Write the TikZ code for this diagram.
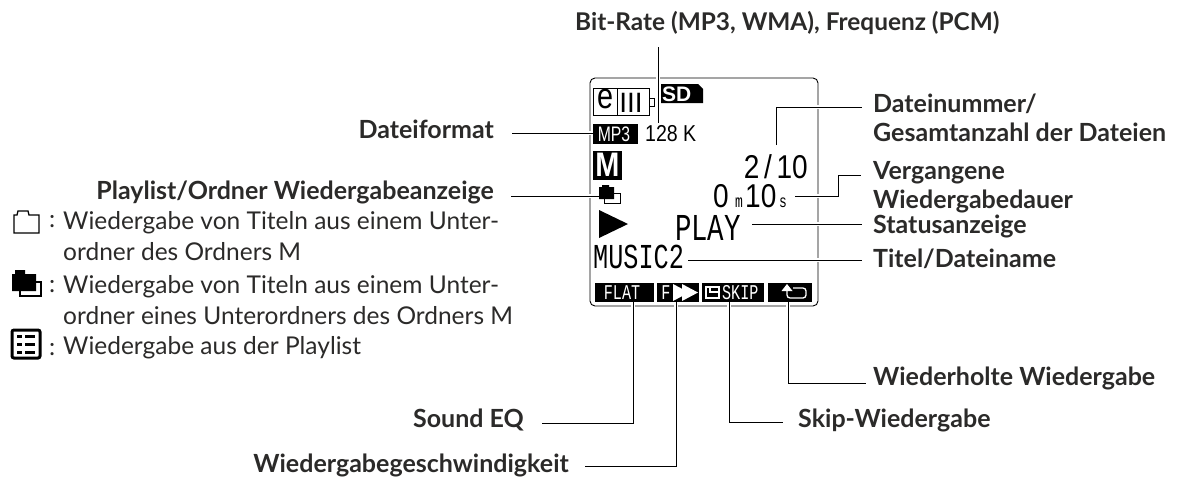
\documentclass[tikz,border=0pt]{standalone}
\usepackage{fontspec}
\setmainfont{Lato}
\setsansfont{Liberation Sans}
\setmonofont{Liberation Mono}
\definecolor{inktext}{HTML}{2B2A29}
\tikzset{
  x=1pt, y=-1pt,
  callout/.style={font=\fontsize{25}{29}\selectfont\bfseries, text=inktext, inner sep=0pt, align=left},
  legend/.style={font=\fontsize{24.5}{31}\selectfont, text=inktext, inner sep=0pt, align=left, anchor=west},
  lcd/.style={font=\ttfamily\fontsize{#1}{#1}\selectfont, inner sep=0pt, xscale=0.72, text depth=0pt, text height=0.66*#1 pt, anchor=base west},
  lcdnum/.style={font=\sffamily\fontsize{#1}{#1}\selectfont, inner sep=0pt, xscale=0.85, text depth=0pt, text height=0.66*#1 pt, anchor=base west},
  lcdsans/.style={font=\sffamily\fontsize{#1}{#1}\selectfont, inner sep=0pt},
  softkey/.style={fill=black, inner sep=0pt, minimum height=19pt},
  lead/.style={line width=1pt, preaction={draw=white, line width=4pt}},
}
\begin{document}
\begin{tikzpicture}
    \useasboundingbox (0,0) rectangle (1180,477);
    % display frame
    \draw[line width=0.9pt, rounded corners=5pt] (590,78) rectangle (818,306);
    % battery and card
    \draw[line width=0.8pt] (593,88) rectangle (617,115);
    \draw[line width=0.8pt] (617,88) rectangle (649,115);
    \draw[line width=0.8pt] (649,98) rectangle (654,106);
    \node[lcdsans=36, xscale=0.8] (echar) at (605,99) {e};
    \node[lcdsans=28] (bars) at (631,103) {III};
    \fill (661,84) -- (698,84) -- (703,89) -- (703,103) -- (661,103) -- cycle;
    \node[lcdsans=21, text=white, anchor=west, font=\sffamily\bfseries\fontsize{21}{21}\selectfont] (sd) at (662,94) {SD};
    % left column of the display
    \node[softkey, minimum width=45pt, minimum height=20pt] (mpbox) at (615.5,134) {};
    \node[lcdsans=21, text=white, xscale=0.75] (mp) at (614,134) {MP3};
    \node[lcdnum=23] (rate) at (645,141) {128 K};
    \node[softkey, minimum width=29pt, minimum height=29pt] (mbox) at (607.5,165) {};
    \node[lcdsans=34, text=white, xscale=0.85, font=\sffamily\bfseries\fontsize{34}{34}\selectfont] (mm) at (607.5,165) {M};
    \draw[line width=1pt, fill=white] (604,193) rectangle (620,203);
    \fill (599,187) -- (602,187) -- (602,185) -- (609,185) -- (609,187) -- (614,187) -- (614,199) -- (599,199) -- cycle;
    \fill (599,210) -- (628,224) -- (599,238) -- cycle;
    % status texts
    \node[lcdnum=33, anchor=base east] (count) at (808,178) {2\,/\,10};
    \node[lcdnum=33] (zero) at (713,207) {0};
    \node[lcd=18] (mins) at (735,207) {m};
    \node[lcdnum=33] (secs) at (745,207) {10};
    \node[lcd=18] (unit) at (779,207) {s};
    \node[lcd=38] (play) at (675,240) {PLAY};
    \node[lcd=35] (title) at (593,268) {MUSIC2};
    % soft keys
    \node[softkey, minimum width=59pt] (flat) at (624.5,292.5) {};
    \node[lcd=21, text=white, anchor=base] (flattext) at (622,299) {FLAT};
    \node[softkey, minimum width=42pt] (speed) at (678,292.5) {};
    \node[lcd=21, text=white, anchor=base] (speedtext) at (666,299) {F};
    \fill[white] (673,284) -- (689,292.5) -- (673,301) -- cycle;
    \fill[white] (682,284) -- (698,292.5) -- (682,301) -- cycle;
    \node[softkey, minimum width=62pt] (skip) at (733,292.5) {};
    \draw[white, line width=1.4pt] (706,287) rectangle (719,298);
    \draw[white, line width=1.4pt] (710,287) -- (710,292) -- (719,292);
    \node[lcd=21, text=white] (skiptext) at (722,299) {SKIP};
    \node[softkey, minimum width=44pt] (rep) at (790,292.5) {};
    \draw[white, line width=1.3pt, rounded corners=3pt] (787,289) -- (787,298) -- (806,298) -- (806,288) -- (793,288);
    \fill[white] (787,284) -- (781.5,291) -- (792.5,291) -- cycle;
    % labels
    \node[callout, font=\fontsize{24.4}{29}\selectfont\bfseries, anchor=west] (ratelabel) at (575,23) {Bit-Rate (MP3, WMA), Frequenz (PCM)};
    \node[callout, anchor=east] (fmtlabel) at (494,129) {Dateiformat};
    \node[callout, anchor=east] (modelabel) at (494,192) {Playlist/Ordner Wiedergabeanzeige};
    \node[callout, anchor=west] (countlabel) at (873,118) {Dateinummer/\\Gesamtanzahl der Dateien};
    \node[callout, anchor=west] (timelabel) at (873,187) {Vergangene\\Wiedergabedauer};
    \node[callout, anchor=west] (statelabel) at (873,226) {Statusanzeige};
    \node[callout, anchor=west] (titlelabel) at (873,259) {Titel/Dateiname};
    \node[callout, anchor=west] (replabel) at (873,378) {Wiederholte Wiedergabe};
    \node[callout, anchor=east] (eqlabel) at (524,420) {Sound EQ};
    \node[callout, anchor=east] (speedlabel) at (569,465) {Wiedergabegeschwindigkeit};
    \node[callout, anchor=west] (skiplabel) at (798,420) {Skip-Wiedergabe};
    % free ends of the connectors
    \coordinate (ratefrom) at (658,47);
    \coordinate (rateto) at (658,123);
    \coordinate (fmtfrom) at (512,133);
    \coordinate (fmtto) at (593,133);
    \coordinate (modefrom) at (511,196);
    \coordinate (modeto) at (599,196);
    \coordinate (countto) at (776,145);
    \coordinate (countfrom) at (862,107);
    \coordinate (timeto) at (795,196);
    \coordinate (timefrom) at (861,175);
    \coordinate (stateto) at (752,224);
    \coordinate (statefrom) at (862,224);
    \coordinate (titleto) at (688,260);
    \coordinate (titlefrom) at (862,260);
    \coordinate (flatto) at (633,302);
    \coordinate (eqfrom) at (542,423);
    \coordinate (speedto) at (676,302);
    \coordinate (speedfrom) at (585,466);
    \coordinate (skipto) at (729,302);
    \coordinate (skipfrom) at (783,422);
    \coordinate (repto) at (788,302);
    \coordinate (repfrom) at (866,383);
    % connectors
    \draw[lead] (ratefrom) -- (rateto);
    \draw[lead] (fmtfrom) -- (fmtto);
    \draw[lead] (modefrom) -- (modeto);
    \draw[lead] (countto) |- (countfrom);
    \draw[lead] (timeto) -- (838,196) -- (838,175) -- (timefrom);
    \draw[lead] (stateto) -- (statefrom);
    \draw[lead] (titleto) -- (titlefrom);
    \draw[lead] (flatto) |- (eqfrom);
    \draw[lead] (speedto) |- (speedfrom);
    \draw[lead] (skipto) |- (skipfrom);
    \draw[lead] (repto) |- (repfrom);
    % legend on the left
    \draw[line width=1.3pt] (14,233) -- (14,215) -- (17,215) -- (18,211) -- (28,211) -- (29,215) -- (39,215) -- (39,233) -- cycle;
    \node[legend] (colonone) at (49,222) {:};
    \node[legend] (legendone) at (63,236) {Wiedergabe von Titeln aus einem Unter-\\ordner des Ordners M};
    \draw[line width=1.4pt] (20,282) rectangle (41,296);
    \fill (12,274) -- (15,274) -- (15,270) -- (25,270) -- (25,274) -- (36,274) -- (36,291) -- (12,291) -- cycle;
    \node[legend] (colontwo) at (49,287) {:};
    \node[legend] (legendtwo) at (63,300) {Wiedergabe von Titeln aus einem Unter-\\ordner eines Unterordners des Ordners M};
    \draw[line width=3pt, rounded corners=2pt] (12,330) rectangle (40,358);
    \foreach \yy in {336,344,352} {
      \fill (17,\yy-1.5) rectangle (22,\yy+1.5);
      \fill (25,\yy-1.5) rectangle (35,\yy+1.5);
    }
    \node[legend] (colonthree) at (49,350) {:};
    \node[legend] (legendthree) at (63,348) {Wiedergabe aus der Playlist};
\end{tikzpicture}
\end{document}
